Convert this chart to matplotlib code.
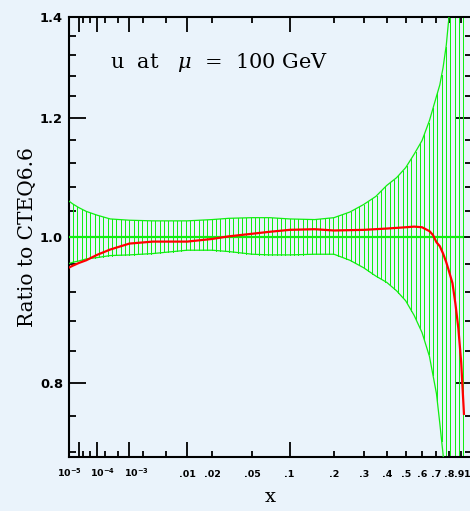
import numpy as np
import matplotlib
matplotlib.use("Agg")
import matplotlib.pyplot as plt
from matplotlib.transforms import ScaledTranslation

# ---------------- data ----------------
band_x = [1e-6, 3e-6, 1e-5, 3e-5, 1e-4, 3e-4, 1e-3, 3e-3, 0.01, 0.02, 0.03, 0.05, 0.07,
          0.1, 0.15, 0.2, 0.25, 0.3, 0.35, 0.4, 0.45, 0.5, 0.55, 0.6, 0.65, 0.7, 0.725,
          0.75, 0.775, 0.8, 0.85, 0.9, 0.92]
band_upper = [1.057, 1.052, 1.046, 1.040, 1.034, 1.028, 1.026, 1.025, 1.025, 1.027, 1.029,
              1.030, 1.030, 1.028, 1.027, 1.030, 1.039, 1.051, 1.064, 1.082, 1.095, 1.112,
              1.135, 1.159, 1.195, 1.240, 1.262, 1.296, 1.341, 1.41, 1.7, 2.2, 2.4]
band_lower = [0.960, 0.962, 0.964, 0.967, 0.969, 0.972, 0.973, 0.975, 0.980, 0.980, 0.978,
              0.974, 0.973, 0.973, 0.974, 0.974, 0.965, 0.954, 0.942, 0.933, 0.921, 0.907,
              0.887, 0.864, 0.833, 0.787, 0.752, 0.717, 0.68, 0.64, 0.55, 0.45, 0.42]
central = [1.0] * len(band_x)

red_x = [1e-6, 3e-6, 1e-5, 3e-5, 1e-4, 3e-4, 1e-3, 3e-3, 0.01, 0.02, 0.03, 0.05, 0.07, 0.1,
         0.15, 0.2, 0.3, 0.4, 0.5, 0.55, 0.6, 0.65, 0.675, 0.7, 0.725, 0.75, 0.775, 0.8,
         0.825, 0.85, 0.875, 0.9, 0.925]
red_y = [0.954, 0.957, 0.961, 0.965, 0.973, 0.981, 0.990, 0.993, 0.993, 0.997, 1.001, 1.005,
         1.008, 1.011, 1.012, 1.010, 1.011, 1.013, 1.015, 1.016, 1.015, 1.009, 1.003, 0.992,
         0.986, 0.975, 0.962, 0.947, 0.932, 0.903, 0.870, 0.826, 0.763]

x_major = [1e-5, 1e-4, 1e-3, 0.01, 0.1, 1.0]
x_major_labels = [r"$\mathbf{10^{-5}}$", r"$\mathbf{10^{-4}}$", r"$\mathbf{10^{-3}}$", ".01", ".1", "1"]
x_minor = [2e-5, 5e-5, 2e-4, 5e-4, 2e-3, 5e-3, 0.02, 0.05, 0.2, 0.3, 0.4, 0.5, 0.6, 0.7, 0.8, 0.9]
x_minor_labels = ["", "", "", "", "", "", ".02", ".05", ".2", ".3", ".4", ".5", ".6", ".7", ".8", ".9"]

y_major = [0.8, 1.0, 1.2, 1.4]
y_major_labels = ["0.8", "1.0", "1.2", "1.4"]
y_minor = [0.72, 0.76, 0.84, 0.88, 0.92, 0.96, 1.04, 1.08, 1.12, 1.16, 1.24, 1.28, 1.32, 1.36]

# ---------------- style ----------------
BG = "#eaf3fb"
GREEN = "#11ee11"
RED = "#ff0000"
N_HATCH = 92

plt.rcParams["mathtext.fontset"] = "custom"
plt.rcParams["mathtext.bf"] = "DejaVu Sans:bold"
plt.rcParams["mathtext.it"] = "DejaVu Serif:italic"
plt.rcParams["mathtext.rm"] = "DejaVu Serif"

fig = plt.figure(figsize=(4.70, 5.11), dpi=100, facecolor=BG)
W, H = 470.0, 511.0
ax = fig.add_axes([68.5 / W, 1 - 457 / H, (472 - 68.5) / W, (457 - 17) / H])
ax.set_facecolor(BG)

fwd = lambda v: np.power(np.clip(v, 1e-12, None), 0.25)
inv = lambda v: np.power(np.clip(v, 0, None), 4.0)
ax.set_xscale("function", functions=(fwd, inv))
ax.set_yscale("log")
ax.set_xlim(1e-6, 1.0)
ax.set_ylim(1 / 1.4, 1.4)

# vertical hatching of the band (evenly spaced on the transformed x axis)
bx = np.asarray(band_x)
fb = fwd(bx)
fh = np.linspace(fb[0], fb[-1], N_HATCH)
xh = inv(fh)
lo_h = np.exp(np.interp(fh, fb, np.log(band_lower)))
hi_h = np.exp(np.interp(fh, fb, np.log(band_upper)))
hatch = ax.vlines(xh, lo_h, hi_h, color=GREEN, lw=0.72, zorder=2)
hatch.set_snap(True)
hatch.set_antialiased(False)

ax.plot(band_x, band_upper, color=GREEN, lw=0.9, zorder=3)
ax.plot(band_x, band_lower, color=GREEN, lw=0.9, zorder=3)
ax.plot(band_x, central, color=GREEN, lw=1.6, zorder=3)
ax.plot(red_x, red_y, color=RED, lw=1.6, zorder=4)

# ticks
ax.set_xticks(x_major, labels=x_major_labels)
ax.set_xticks(x_minor, labels=x_minor_labels, minor=True)
ax.set_yticks(y_major, labels=y_major_labels)
ax.set_yticks(y_minor, labels=[""] * len(y_minor), minor=True)

ax.tick_params(which="both", direction="in", top=True, right=True, width=1.3, color="black")
ax.tick_params(axis="x", which="major", length=11)
ax.tick_params(axis="x", which="minor", length=4.5)
ax.tick_params(axis="y", which="major", length=12, pad=4, labelsize=9.4)
ax.tick_params(axis="y", which="minor", length=5)
ax.tick_params(axis="x", which="both", pad=14.5, labelsize=6.8)

for lab in ax.get_yticklabels():
    lab.set_fontweight("bold")
    lab.set_fontfamily("DejaVu Sans")
for lab in ax.get_xticklabels(which="both"):
    lab.set_fontweight("bold")
    lab.set_fontfamily("DejaVu Sans")
    lab.set_verticalalignment("baseline")

major_offsets = {0: -9, 1: 6, 2: 7, 5: -5}
for i, lab in enumerate(ax.xaxis.get_majorticklabels()):
    if i in major_offsets:
        lab.set_transform(lab.get_transform() +
                          ScaledTranslation(major_offsets[i] / 100.0, 0, fig.dpi_scale_trans))
minor_offsets = {15: -2.2, 14: -0.6}
for i, lab in enumerate(ax.xaxis.get_minorticklabels()):
    if i in minor_offsets:
        lab.set_transform(lab.get_transform() +
                          ScaledTranslation(minor_offsets[i] / 100.0, 0, fig.dpi_scale_trans))

for sp in ax.spines.values():
    sp.set_linewidth(1.5)

ax.set_xlabel("x", family="DejaVu Serif", fontsize=14, labelpad=6)
ax.set_ylabel("Ratio to CTEQ6.6", family="DejaVu Serif", fontsize=14.5, labelpad=2)

ax.text(110 / W, 1 - 62 / H, r"u  at   $\mu$  =  100 GeV", transform=fig.transFigure,
        family="DejaVu Serif", fontsize=15, ha="left", va="center")

fig.savefig("out.png", dpi=100, facecolor=BG)
